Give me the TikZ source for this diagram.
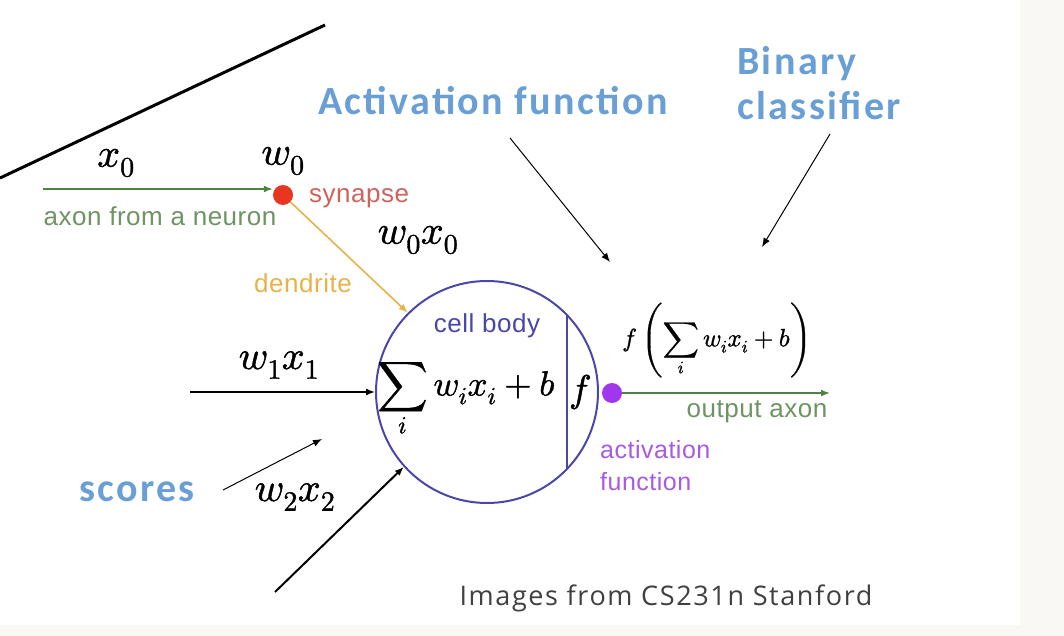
\documentclass[tikz,border=0pt]{standalone}
\usepackage{fontspec}
\usepackage{unicode-math}
\setmathfont[FakeBold=1.2]{Latin Modern Math}
\usetikzlibrary{arrows.meta}
\newfontfamily\lsans[LetterSpace=2]{Liberation Sans}
\newfontfamily\calib[LetterSpace=6]{Carlito}
\newfontfamily\osans[LetterSpace=6]{Open Sans}
\definecolor{axgreen}{HTML}{4E8440}
\definecolor{axtext}{HTML}{6E9464}
\definecolor{synred}{HTML}{E8361F}
\definecolor{syntext}{HTML}{D0625C}
\definecolor{dendr}{HTML}{E8B24A}
\definecolor{cellb}{HTML}{4A47A8}
\definecolor{actpur}{HTML}{A236EE}
\definecolor{acttext}{HTML}{A85AE2}
\definecolor{title}{HTML}{6A9FD6}
\definecolor{credit}{HTML}{404040}
\definecolor{sidebg}{HTML}{F9F8F5}
\tikzset{
  tip/.style={-{Latex[length=9pt,width=7pt]}},
  smalltip/.style={-{Latex[length=9pt,width=7pt]}},
  lbl/.style={inner sep=0pt},
  small/.style={lbl, font=\lsans\fontsize{26}{30}\selectfont},
  big/.style={lbl, font=\calib\bfseries\fontsize{40}{44}\selectfont, text=title},
  mathlbl/.style={lbl, font=\fontsize{40}{44}\selectfont},
}
\begin{document}
\begin{tikzpicture}[x=1pt,y=-1pt]
\fill[sidebg] (0,0) rectangle (1064,636);
\fill[white] (0,0) rectangle (1020,625);
\useasboundingbox (0,0) rectangle (1064,636);

% black slanted line
\coordinate (l1) at (0,178);
\coordinate (l2) at (325,25);
\draw[line width=3pt] (l1) -- (l2);

% synapse
\node[circle, fill=synred, minimum size=20pt, inner sep=0pt] (syn) at (283,195) {};
\coordinate (ax0) at (43,189);
\draw[axgreen, line width=1.6pt, tip] (ax0) -- (syn.west |- ax0);
\node[mathlbl] (x0) at (116,163) {$x_0$};
\node[mathlbl] (w0) at (283,161) {$w_0$};
\node[small, text=axtext] (axlbl) at (160,216) {axon from a neuron};
\node[small, text=syntext, anchor=west] (synlbl) at (309,198) {synapse};
\node[mathlbl] (w0x0) at (418,240) {$w_0x_0$};

% cell body
\node[circle, draw=cellb, line width=2pt, minimum size=222pt, inner sep=0pt] (cell) at (487,392) {};
\draw[cellb, line width=2pt] (cell.center) ++(80,-77) coordinate (ct) -- ++(0,154) coordinate (cb);
\node[small, text=cellb] (cbl) at (487,326) {cell body};
\node[lbl, font=\fontsize{35}{38}\selectfont] (sum) at (466,400) {$\displaystyle\sum_i w_ix_i+b$};
\node[lbl, font=\fontsize{38}{40}\selectfont] (fin) at (580,392) {$f$};

% dendrite
\draw[dendr, line width=1.6pt, tip] (syn) -- (cell.135);
\node[small, text=dendr] (dlbl) at (303,283) {dendrite};

% inputs
\coordinate (in1) at (190,392);
\draw[line width=1.6pt, tip] (in1) -- (cell.west);
\node[mathlbl] (w1x1) at (279,365) {$w_1x_1$};
\coordinate (in2) at (275,592);
\draw[line width=2pt, tip] (in2) -- (cell.222);
\node[mathlbl] (w2x2) at (295,497) {$w_2x_2$};

% activation dot and output
\node[circle, fill=actpur, minimum size=20pt, inner sep=0pt] (act) at (612,393) {};
\coordinate (out) at (830,393);
\draw[axgreen, line width=1.6pt, tip] (act) -- (out);
\node[small, text=axtext] (outlbl) at (757,412) {output axon};
\node[small, text=acttext, anchor=north west, align=left, font=\lsans\fontsize{25}{32}\selectfont] (actlbl) at (600,440) {activation\\function};
\node[lbl, font=\fontsize{25}{28}\selectfont] (fout) at (717,340) {$f\left(\displaystyle\sum_i w_ix_i+b\right)$};

% big labels
\node[big] (actfn) at (493,101) {Activation function};
\node[big, align=left, font=\calib\bfseries\fontsize{40}{45}\selectfont] (bincl) at (819,83) {Binary\\classifier};
\node[big] (scores) at (137,492) {scores};

\coordinate (a1) at (510,138);
\coordinate (a2) at (610,262);
\draw[line width=1pt, smalltip] (a1) -- (a2);
\coordinate (b1) at (830,134);
\coordinate (b2) at (762,247);
\draw[line width=1pt, smalltip] (b1) -- (b2);
\coordinate (s1) at (223,490);
\coordinate (s2) at (322,439);
\draw[line width=1pt, smalltip] (s1) -- (s2);

% credit
\node[lbl, font=\osans\fontsize{27}{30}\selectfont, text=credit] (cred) at (666,598) {Images from CS231n Stanford};
\end{tikzpicture}
\end{document}
